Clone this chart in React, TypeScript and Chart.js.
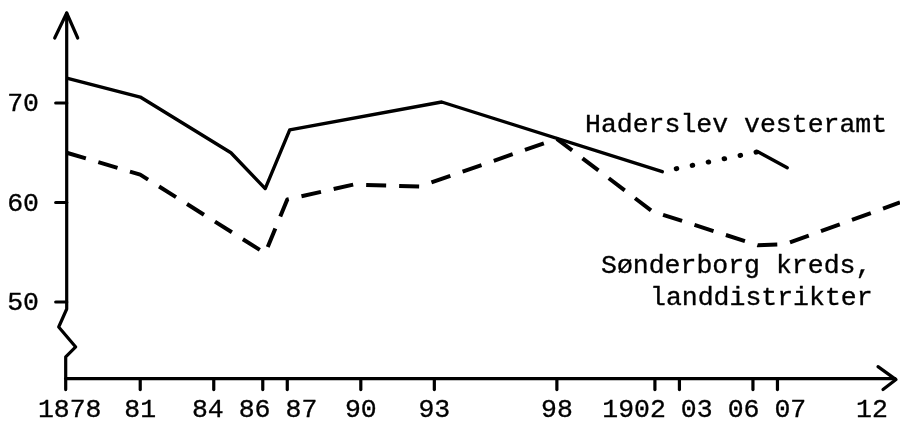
import React, { useEffect, useRef } from "react";
import { Chart, registerables } from "chart.js";

Chart.register(...registerables);

// X tick labels (years) and their display text
const xTickYears = [1878, 1881, 1884, 1886, 1887, 1890, 1893, 1898, 1902, 1903, 1906, 1907, 1912];
const xTickLabels = ["1878", "81", "84", "86", "87", "90", "93", "98", "1902", "03", "06", "07", "12"];
const yTickValues = [50, 60, 70];

// Haderslev vesteramt (solid; dotted between 1902 and 1906)
const haderslevYears = [1878, 1881, 1884.7, 1886.1, 1887.1, 1893.3, 1902.3, 1906.2, 1907.4];
const haderslevValues = [72.5, 70.6, 65.0, 61.4, 67.3, 70.1, 63.1, 65.1, 63.5];
const haderslevDottedFrom = 6;

// Sønderborg kreds, landdistrikter (dashed)
const sonderborgYears = [1878, 1881, 1886.1, 1887.0, 1889.7, 1892.4, 1898, 1901.9, 1906.2, 1907.3, 1912];
const sonderborgValues = [65.0, 62.8, 54.9, 60.3, 61.8, 61.6, 66.4, 59.1, 55.7, 55.8, 60.0];

const labelHaderslev = ["Haderslev vesteramt"];
const labelSonderborg = ["Sønderborg kreds,", "landdistrikter"];

const FONT = "26.5px 'Liberation Mono', 'DejaVu Sans Mono', monospace";
const TEXT_STROKE = 0.35;

function drawText(ctx: CanvasRenderingContext2D, s: string, x: number, y: number) {
  ctx.fillText(s, x, y);
  ctx.strokeText(s, x, y);
}

export default function App() {
  const ref = useRef<HTMLCanvasElement | null>(null);

  useEffect(() => {
    const canvas = ref.current;
    if (!canvas) return;

    const axesPlugin = {
      id: "handAxes",
      afterDraw(chart: any) {
        const ctx = chart.ctx as CanvasRenderingContext2D;
        const xs = chart.scales.x;
        const ys = chart.scales.y;
        const area = chart.chartArea;
        const ax = xs.getPixelForValue(1878);
        const ay = area.bottom;
        ctx.save();
        ctx.strokeStyle = "#000";
        ctx.fillStyle = "#000";
        ctx.lineWidth = 3.2;
        ctx.lineJoin = "round";
        ctx.lineCap = "round";

        // Y axis with break
        const yBreak = ys.getPixelForValue(50) + 7;
        ctx.beginPath();
        ctx.moveTo(ax, 13);
        ctx.lineTo(ax, yBreak);
        ctx.lineTo(ax - 8, yBreak + 18);
        ctx.lineTo(ax + 9, yBreak + 38);
        ctx.lineTo(ax - 1, yBreak + 48);
        ctx.lineTo(ax - 1, ay + 11);
        ctx.stroke();
        // top arrowhead
        ctx.beginPath();
        ctx.moveTo(ax - 12, 38);
        ctx.lineTo(ax, 13);
        ctx.lineTo(ax + 11, 38);
        ctx.stroke();

        // X axis
        ctx.beginPath();
        ctx.moveTo(ax - 1, ay);
        ctx.lineTo(895, ay);
        ctx.stroke();
        ctx.beginPath();
        ctx.moveTo(878, ay - 12);
        ctx.lineTo(896, ay + 1);
        ctx.lineTo(883, ay + 11);
        ctx.stroke();

        // X ticks
        xTickYears.forEach((yr, i) => {
          const px = xs.getPixelForValue(yr);
          if (i > 0 && px < area.right - 10) {
            ctx.beginPath();
            ctx.moveTo(px, ay);
            ctx.lineTo(px, ay + 11);
            ctx.stroke();
          }
        });

        // X labels, spread apart where they would collide
        ctx.font = FONT;
        ctx.lineWidth = TEXT_STROKE;
        const widths = xTickLabels.map((s) => ctx.measureText(s).width);
        const pos = xTickYears.map((yr) => Math.min(xs.getPixelForValue(yr), area.right - 28));
        pos[0] += 3;
        for (let pass = 0; pass < 20; pass++) {
          for (let i = 0; i < pos.length - 1; i++) {
            const need = (widths[i] + widths[i + 1]) / 2 + 15;
            const d = pos[i + 1] - pos[i];
            if (d < need) {
              const push = (need - d) / 2;
              if (i > 0) pos[i] -= push;
              else pos[i + 1] += push;
              if (i + 1 < pos.length - 1) pos[i + 1] += push;
              else pos[i] -= push;
            }
          }
        }
        ctx.textAlign = "center";
        ctx.textBaseline = "alphabetic";
        xTickLabels.forEach((s, i) => drawText(ctx, s, pos[i], 417));

        // Y ticks and labels
        ctx.textAlign = "right";
        ctx.textBaseline = "middle";
        yTickValues.forEach((v) => {
          const py = ys.getPixelForValue(v);
          ctx.lineWidth = 3.2;
          ctx.beginPath();
          ctx.moveTo(ax - 11, py);
          ctx.lineTo(ax, py);
          ctx.stroke();
          ctx.lineWidth = TEXT_STROKE;
          drawText(ctx, String(v), 39, py + 1);
        });

        // Series annotations
        ctx.lineWidth = TEXT_STROKE;
        ctx.textAlign = "left";
        ctx.textBaseline = "alphabetic";
        drawText(ctx, labelHaderslev[0], 585, 132);
        drawText(ctx, labelSonderborg[0], 601, 273);
        drawText(ctx, labelSonderborg[1], 650, 305);
        ctx.restore();
      },
    };

    const chart = new Chart(canvas, {
      type: "line",
      data: {
        datasets: [
          {
            label: labelHaderslev[0],
            data: haderslevYears.map((x, i) => ({ x, y: haderslevValues[i] })),
            borderColor: "#000",
            borderWidth: 3.4,
            pointRadius: 0,
            borderJoinStyle: "round",
            borderCapStyle: "round",
            tension: 0,
            segment: {
              borderDash: (c: any) => (c.p0DataIndex === haderslevDottedFrom ? [0.5, 15.8] : undefined),
              borderDashOffset: (c: any) => (c.p0DataIndex === haderslevDottedFrom ? 2 : undefined),
              borderWidth: (c: any) => (c.p0DataIndex === haderslevDottedFrom ? 5 : undefined),
            },
          },
          {
            label: labelSonderborg.join(" "),
            data: sonderborgYears.map((x, i) => ({ x, y: sonderborgValues[i] })),
            borderColor: "#000",
            borderWidth: 4,
            borderDash: [20, 13],
            borderCapStyle: "butt",
            borderJoinStyle: "round",
            pointRadius: 0,
            tension: 0,
          },
        ],
      },
      options: {
        animation: false,
        responsive: true,
        maintainAspectRatio: false,
        layout: { padding: { left: 66.7, right: 0, top: 3.5, bottom: 42.4 } },
        scales: {
          x: { type: "linear", min: 1878, max: 1912, display: false },
          y: { type: "linear", min: 42.3, max: 80, display: false },
        },
        plugins: { legend: { display: false }, tooltip: { enabled: false } },
      },
      plugins: [axesPlugin],
    } as any);

    return () => chart.destroy();
  }, []);

  return (
    <div style={{ position: "fixed", left: 0, top: 0, width: 900, height: 421, background: "#fff" }}>
      <canvas ref={ref} />
    </div>
  );
}
